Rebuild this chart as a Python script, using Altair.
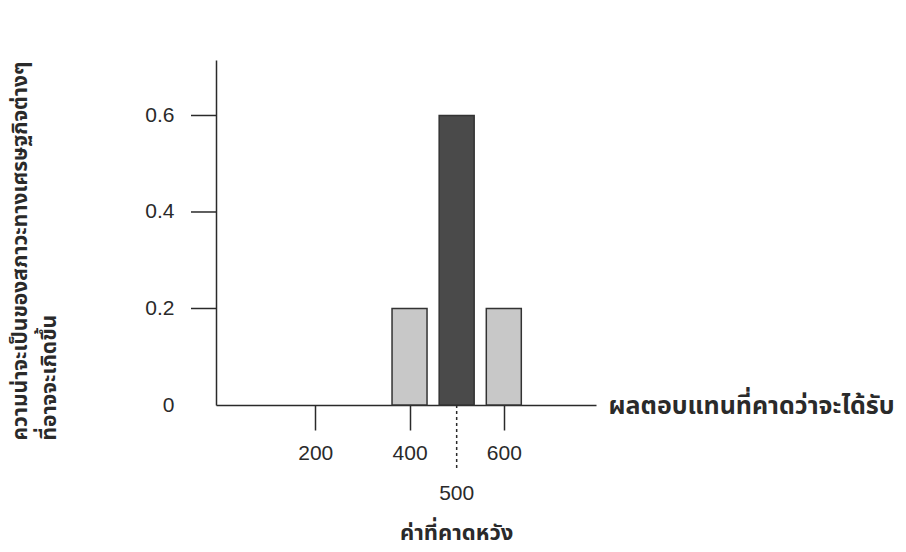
import altair as alt
import pandas as pd

returns = [400, 500, 600]
probabilities = [0.2, 0.6, 0.2]
bar_kind = ["side", "expected", "side"]

y_tick_values = [0.2, 0.4, 0.6]
y_label_values = [0, 0.2, 0.4, 0.6]
x_tick_values = [200, 400, 600]

expected_value = [500]
expected_label = ["500"]
expected_title = ["ค่าที่คาดหวัง"]

x_title = "ผลตอบแทนที่คาดว่าจะได้รับ"
y_title = ["ความน่าจะเป็นของสภาวะทางเศรษฐกิจต่างๆ", "ที่อาจจะเกิดขึ้น"]

W, H = 380, 345
FONT = "Liberation Sans"
THAI = "Noto Sans Thai, Noto Sans, Liberation Sans"
INK = "#2a2a2a"
NUM = 21

bars_df = pd.DataFrame({"ret": returns, "p": probabilities, "kind": bar_kind})
ytick_df = pd.DataFrame({"v": y_tick_values})
exp_df = pd.DataFrame({"ret": expected_value, "lab": expected_label, "t": expected_title})

xscale = alt.Scale(domain=[0, 785], nice=False, zero=False)
yscale = alt.Scale(domain=[0, 0.715], nice=False)

bars = alt.Chart(bars_df).mark_bar(size=35, stroke="#333333", strokeWidth=1.5).encode(
    x=alt.X("ret:Q", scale=xscale,
            axis=alt.Axis(values=x_tick_values, tickSize=25, tickColor=INK, tickWidth=1.5,
                          domainColor=INK, domainWidth=1.5, labelPadding=12,
                          labelFont=FONT, labelFontSize=NUM, labelColor=INK,
                          grid=False, title=x_title, titleFont=THAI, titleFontSize=25,
                          titleFontWeight="bold", titleColor=INK,
                          titleX=W + 12, titleY=0, titleAlign="left", titleBaseline="middle",
                          titleAngle=0)),
    y=alt.Y("p:Q", scale=yscale,
            axis=alt.Axis(values=y_label_values, ticks=False, domainColor=INK, domainWidth=1.5,
                          labelExpr="datum.value == 0 ? '0' : format(datum.value, '.1f')",
                          labelPadding=42, labelFont=FONT, labelFontSize=NUM, labelColor=INK,
                          grid=False, title=y_title, titleFont=THAI, titleFontSize=21,
                          titleFontWeight="bold", titleColor=INK, titleAngle=270,
                          titleX=-207, titleY=380, titleAlign="left", titleBaseline="top",
                          titleLineHeight=29)),
    color=alt.Color("kind:N", scale=alt.Scale(domain=["side", "expected"],
                                              range=["#c8c8c8", "#4a4a4a"]), legend=None),
)

yticks = alt.Chart(ytick_df).mark_rule(color=INK, strokeWidth=1.5).encode(
    y=alt.Y("v:Q", scale=yscale),
    x=alt.value(-25), x2=alt.value(0),
)

exp_rule = alt.Chart(exp_df).mark_rule(color=INK, strokeWidth=1.5, strokeDash=[3, 3]).encode(
    x=alt.X("ret:Q", scale=xscale),
    y=alt.value(H), y2=alt.value(H + 63),
)

exp_lab = alt.Chart(exp_df).mark_text(font=FONT, fontSize=NUM, color=INK, baseline="middle").encode(
    x=alt.X("ret:Q", scale=xscale), y=alt.value(H + 89), text="lab:N",
)

exp_title = alt.Chart(exp_df).mark_text(font=THAI, fontSize=22, fontWeight="bold", color=INK,
                                         baseline="middle").encode(
    x=alt.X("ret:Q", scale=xscale), y=alt.value(H + 128), text="t:N",
)

chart = alt.layer(bars, yticks, exp_rule, exp_lab, exp_title).properties(
    width=W, height=H,
    autosize=alt.AutoSizeParams(type="none"),
    padding={"left": 216, "top": 60, "right": 310, "bottom": 147},
    background="white",
).configure_view(stroke=None)

chart.save("out.html", embed_options={"renderer": "svg", "actions": False})
